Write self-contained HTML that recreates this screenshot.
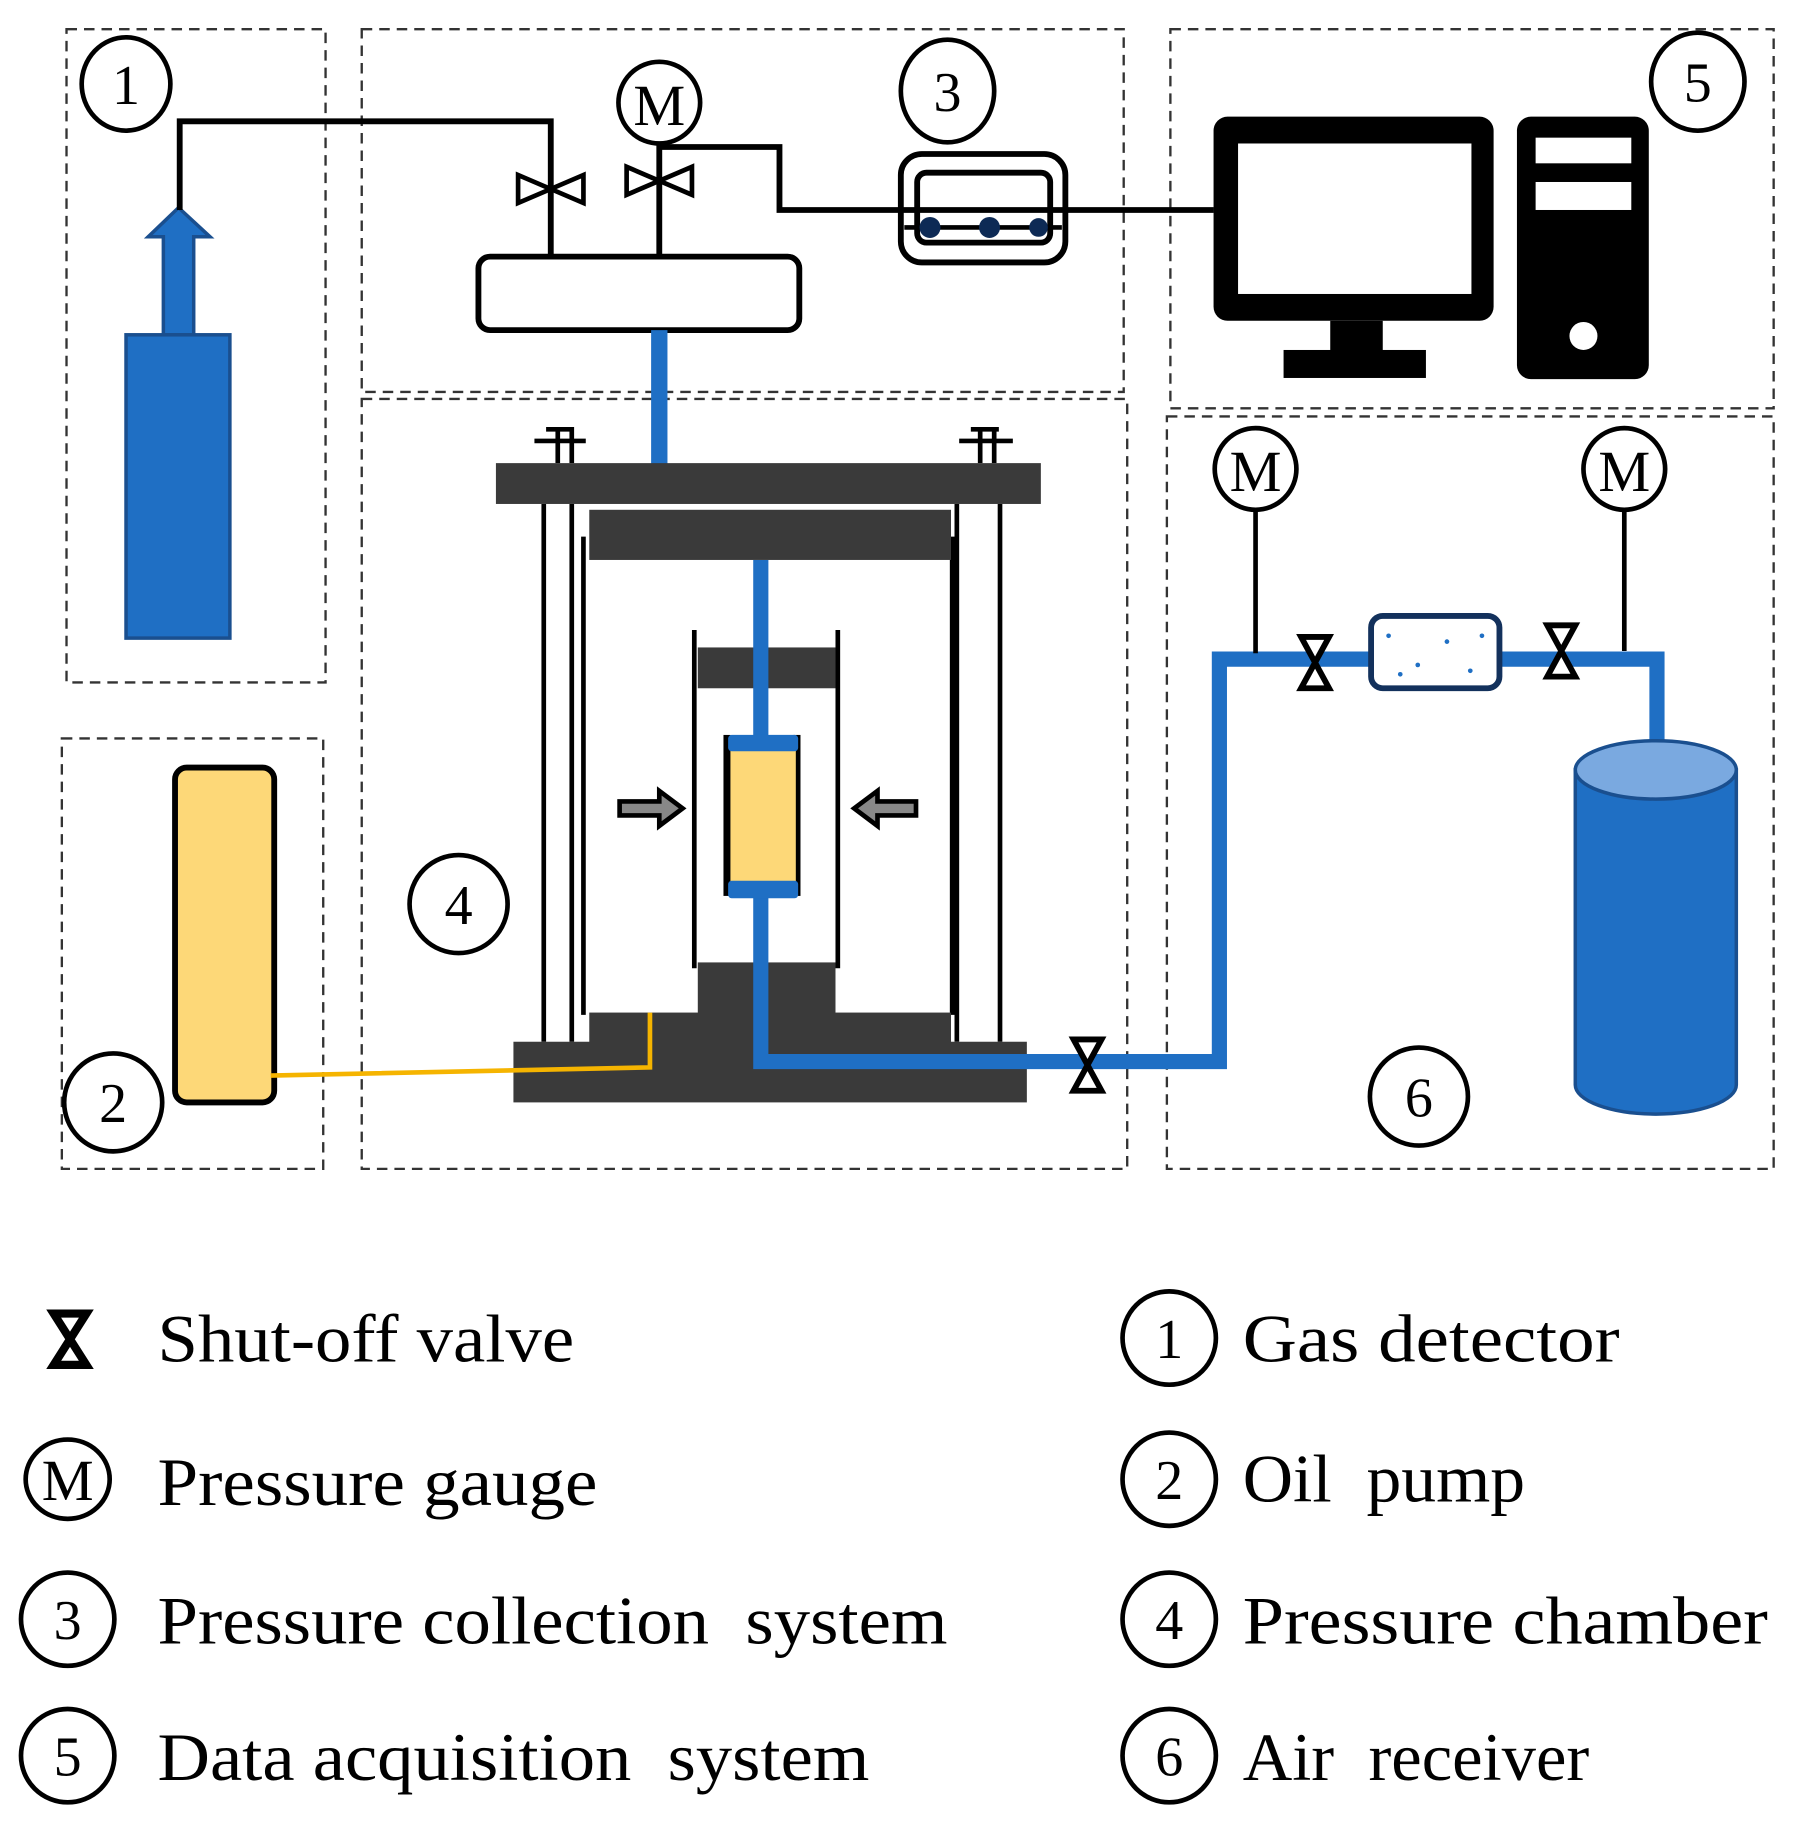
<!DOCTYPE html>
<html><head><meta charset="utf-8"><style>
html,body{margin:0;padding:0;background:#fff;}
svg{display:block;}
text{font-family:"Liberation Serif",serif;fill:#000;}
</style></head><body>
<svg width="1811" height="1835" viewBox="0 0 1552 1573" preserveAspectRatio="none" xmlns="http://www.w3.org/2000/svg">
<defs>
<g id="vv"><path d="M-12,-22 L12,-22 L-12,22 L12,22 Z" fill="#fff" stroke="#000" stroke-width="5" stroke-linejoin="miter"/></g>
<g id="hv"><path d="M-28,-12 L-28,12 L28,-12 L28,12 Z" fill="#fff" stroke="#000" stroke-width="4"/></g>
</defs>
<g fill="none" stroke="#333" stroke-width="2" stroke-dasharray="9,6">
<rect x="57" y="25" width="222" height="560"/>
<rect x="53" y="633" width="224" height="369"/>
<rect x="310" y="25" width="653" height="311"/>
<rect x="310" y="342" width="656" height="660"/>
<rect x="1003" y="25" width="517" height="325"/>
<rect x="1000" y="357" width="520" height="645"/>
</g>
<rect x="108" y="287" width="89" height="260" fill="#1f6fc4" stroke="#1a4f8f" stroke-width="3"/>
<path d="M140,287 L140,203 L127,203 L153,178 L180,203 L166,203 L166,287 Z" fill="#1f6fc4" stroke="#1a4f8f" stroke-width="3"/>
<g fill="none" stroke="#000" stroke-width="5">
<path d="M154,180 L154,104 L472,104 L472,220"/>
<path d="M565,123 L565,220"/>
<path d="M565,126 L668,126 L668,180 L1040,180"/>
</g>
<use href="#hv" x="472" y="162"/>
<use href="#hv" x="565" y="155"/>
<rect x="410" y="220" width="275" height="63" rx="10" fill="#fff" stroke="#000" stroke-width="5"/>
<rect x="558" y="283" width="14" height="115" fill="#1f6fc4"/>
<rect x="772" y="132" width="141" height="93" rx="18" fill="#fff" stroke="#000" stroke-width="5"/>
<rect x="786" y="148" width="114" height="60" rx="8" fill="none" stroke="#000" stroke-width="5"/>
<line x1="772" y1="180" x2="913" y2="180" stroke="#000" stroke-width="5"/>
<line x1="775" y1="195" x2="910" y2="195" stroke="#000" stroke-width="4"/>
<g fill="#0d2a55"><circle cx="797" cy="195" r="9"/><circle cx="848" cy="195" r="9"/><circle cx="890" cy="195" r="8"/></g>
<rect x="1040" y="100" width="240" height="175" rx="12" fill="#000"/>
<rect x="1061" y="123" width="200" height="129" fill="#fff"/>
<rect x="1140" y="275" width="45" height="27" fill="#000"/>
<rect x="1100" y="300" width="122" height="24" fill="#000"/>
<rect x="1300" y="100" width="113" height="225" rx="12" fill="#000"/>
<rect x="1316" y="118" width="82" height="22" fill="#fff"/>
<rect x="1316" y="156" width="82" height="24" fill="#fff"/>
<circle cx="1357" cy="288" r="12" fill="#fff"/>
<g stroke="#000" stroke-width="4" fill="none">
<path d="M478,397 L478,368 M490,397 L490,368 M458,378 L502,378 M468,368 L492,368"/>
<path d="M840,397 L840,368 M852,397 L852,368 M822,378 L868,378 M832,368 L856,368"/>
<path d="M466,432 V893 M490,432 V893 M500,460 V870 M820,432 V893 M857,432 V893 M816,460 V870"/>
<path d="M595,540 V830 M718,540 V830"/>
</g>
<g fill="#3a3a3a">
<rect x="425" y="397" width="467" height="35"/>
<rect x="505" y="437" width="310" height="43"/>
<rect x="598" y="555" width="118" height="35"/>
<rect x="598" y="825" width="118" height="50"/>
<rect x="505" y="868" width="310" height="30"/>
<rect x="440" y="893" width="440" height="52"/>
</g>
<path d="M652,480 V632 M652,768 V910 H1045 V565 H1420 V635" fill="none" stroke="#1f6fc4" stroke-width="13"/>
<rect x="620" y="630" width="6" height="138" fill="#000"/>
<rect x="680" y="630" width="6" height="138" fill="#000"/>
<rect x="626" y="640" width="56" height="120" fill="#fdd878"/>
<rect x="624" y="630" width="60" height="14" rx="3" fill="#1f6fc4"/>
<rect x="624" y="755" width="60" height="15" rx="3" fill="#1f6fc4"/>
<path d="M531,687 L565,687 L565,678 L585,693 L565,708 L565,699 L531,699 Z" fill="#888" stroke="#000" stroke-width="4"/>
<path d="M785,687 L752,687 L752,678 L732,693 L752,708 L752,699 L785,699 Z" fill="#888" stroke="#000" stroke-width="4"/>
<rect x="150" y="658" width="85" height="287" rx="10" fill="#fdd878" stroke="#000" stroke-width="5"/>
<path d="M232,922 L557,915 L557,868" fill="none" stroke="#f5b400" stroke-width="4"/>
<g stroke="#000" stroke-width="4"><line x1="1076" y1="437" x2="1076" y2="560"/><line x1="1392" y1="437" x2="1392" y2="558"/></g>
<use href="#vv" x="932" y="913"/>
<use href="#vv" x="1127" y="568"/>
<use href="#vv" x="1338" y="558"/>
<rect x="1175" y="528" width="110" height="62" rx="10" fill="#fff" stroke="#13315c" stroke-width="5"/>
<g fill="#1f6fc4"><circle cx="1190" cy="545" r="2"/><circle cx="1215" cy="570" r="2"/><circle cx="1240" cy="550" r="2"/><circle cx="1260" cy="575" r="2"/><circle cx="1200" cy="578" r="2"/><circle cx="1270" cy="545" r="2"/></g>
<path d="M1350,660 V930 A69,25 0 0 0 1488,930 V660 Z" fill="#1f6fc4" stroke="#1a4f8f" stroke-width="3"/>
<ellipse cx="1419" cy="660" rx="69" ry="25" fill="#7aa9e0" stroke="#1a4f8f" stroke-width="3"/>
<g fill="#fff" stroke="#000" stroke-width="4">
<ellipse cx="108" cy="72" rx="38" ry="40"/>
<ellipse cx="565" cy="88" rx="35" ry="35"/>
<ellipse cx="812" cy="78" rx="40" ry="44"/>
<ellipse cx="1455" cy="70" rx="40" ry="42"/>
<ellipse cx="393" cy="775" rx="42" ry="42"/>
<ellipse cx="97" cy="945" rx="42" ry="42"/>
<ellipse cx="1216" cy="940" rx="42" ry="42"/>
<ellipse cx="1076" cy="402" rx="35" ry="35"/>
<ellipse cx="1392" cy="402" rx="35" ry="35"/>
</g>
<g font-size="48" text-anchor="middle">
<text x="108" y="89">1</text>
<text x="565" y="107" font-size="50">M</text>
<text x="812" y="95">3</text>
<text x="1455" y="87">5</text>
<text x="393" y="792">4</text>
<text x="97" y="962">2</text>
<text x="1216" y="957">6</text>
<text x="1076" y="421" font-size="50">M</text>
<text x="1392" y="421" font-size="50">M</text>
</g>
<path d="M46,1126 L74,1126 L46,1170 L74,1170 Z" fill="#fff" stroke="#000" stroke-width="7"/>
<ellipse cx="58" cy="1268" rx="36" ry="34" fill="#fff" stroke="#000" stroke-width="4"/>
<text x="58" y="1286" font-size="50" text-anchor="middle">M</text>
<g fill="#fff" stroke="#000" stroke-width="4">
<circle cx="58" cy="1388" r="40"/><circle cx="58" cy="1505" r="40"/>
<circle cx="1002" cy="1147" r="40"/><circle cx="1002" cy="1268" r="40"/>
<circle cx="1002" cy="1388" r="40"/><circle cx="1002" cy="1505" r="40"/>
</g>
<g font-size="48" text-anchor="middle">
<text x="58" y="1405">3</text><text x="58" y="1522">5</text>
<text x="1002" y="1164">1</text><text x="1002" y="1285">2</text>
<text x="1002" y="1405">4</text><text x="1002" y="1522">6</text>
</g>
<g font-size="58" lengthAdjust="spacingAndGlyphs">
<text x="135" y="1167" textLength="357" lengthAdjust="spacingAndGlyphs">Shut-off valve</text>
<text x="135" y="1290" textLength="377" lengthAdjust="spacingAndGlyphs">Pressure gauge</text>
<text x="135" y="1409" textLength="677" lengthAdjust="spacingAndGlyphs">Pressure collection&#160; system</text>
<text x="135" y="1526" textLength="610" lengthAdjust="spacingAndGlyphs">Data acquisition&#160; system</text>
<text x="1065" y="1167" textLength="323" lengthAdjust="spacingAndGlyphs">Gas detector</text>
<text x="1065" y="1287" textLength="242" lengthAdjust="spacingAndGlyphs">Oil&#160; pump</text>
<text x="1065" y="1409" textLength="450" lengthAdjust="spacingAndGlyphs">Pressure chamber</text>
<text x="1065" y="1526" textLength="297" lengthAdjust="spacingAndGlyphs">Air&#160; receiver</text>
</g>
</svg>
</body></html>
